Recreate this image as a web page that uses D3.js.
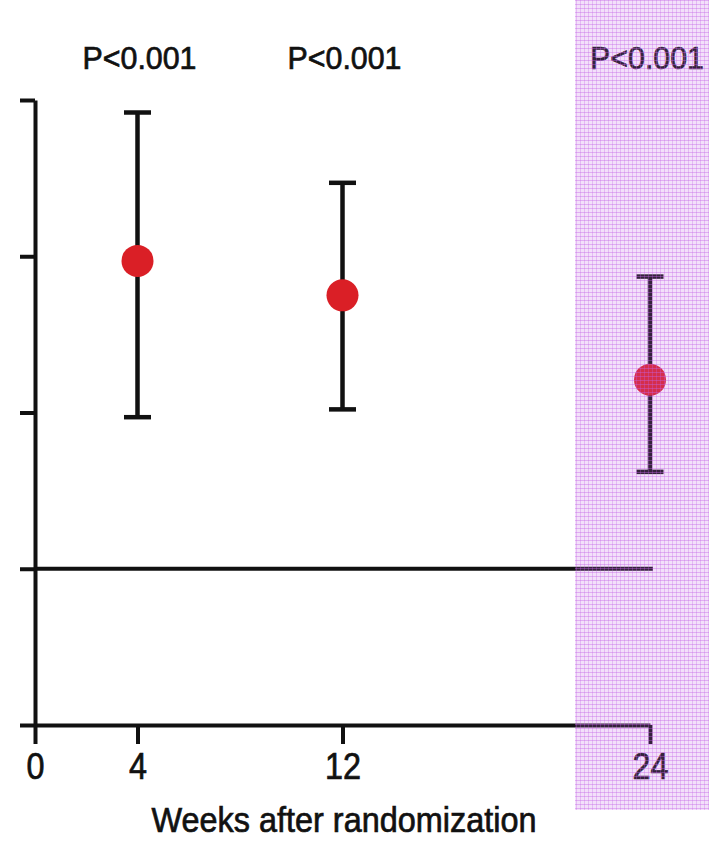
<!DOCTYPE html>
<html>
<head>
<meta charset="utf-8">
<script src="https://cdn.jsdelivr.net/npm/d3@7"></script>
<style>
  body { margin: 0; background: #fff; }
  text { font-family: "Liberation Sans", Arial, sans-serif; fill: #111; stroke: #111; stroke-width: 0.7px; }
</style>
</head>
<body>
<svg id="chart" width="709" height="846"></svg>
<script>
// data
const weeks = [4, 12, 24];
const estimates = [2.97, 2.75, 2.21];
const lower = [1.97, 2.02, 1.62];
const upper = [3.92, 3.47, 2.87];
const pLabels = ["P<0.001", "P<0.001", "P<0.001"];
const xTicks = [0, 4, 12, 24];
const yTicks = [0, 1, 2, 3, 4];
const refValue = 1;

const svg = d3.select('#chart');
const x = d3.scaleLinear().domain([0, 24]).range([35, 650]);
const y = d3.scaleLinear().domain([0, 4]).range([725, 100]);

const points = weeks.map((w, i) => ({ week: w, est: estimates[i], lo: lower[i], hi: upper[i], p: pLabels[i] }));

// y axis, no labels
const yAxis = svg.append('g').attr('transform', 'translate(35,0)')
    .call(d3.axisLeft(y).tickValues(yTicks).tickSize(15).tickSizeOuter(0).tickFormat(''));
yAxis.selectAll('path, line').attr('stroke', '#111').attr('stroke-width', 4);

// x axis
const xAxis = svg.append('g').attr('transform', 'translate(0,725)')
    .call(d3.axisBottom(x).tickValues(xTicks).tickSize(19).tickSizeOuter(0).tickPadding(9));
xAxis.selectAll('path, line').attr('stroke', '#111').attr('stroke-width', 4);
xAxis.selectAll('text').attr('font-size', '36px').attr('fill', '#111')
    .attr('textLength', d => String(d).length * 18).attr('lengthAdjust', 'spacingAndGlyphs');

// reference line
svg.append('line')
    .attr('x1', x(0)).attr('x2', x(24) + 3)
    .attr('y1', y(refValue)).attr('y2', y(refValue))
    .attr('stroke', '#111').attr('stroke-width', 4);

// error bars
const g = svg.selectAll('.pt').data(points).enter().append('g').attr('class', 'pt');
g.append('line')
    .attr('x1', d => x(d.week)).attr('x2', d => x(d.week))
    .attr('y1', d => y(d.hi)).attr('y2', d => y(d.lo))
    .attr('stroke', '#111').attr('stroke-width', 4.5);
g.append('line')
    .attr('x1', d => x(d.week) - 13.5).attr('x2', d => x(d.week) + 13.5)
    .attr('y1', d => y(d.hi)).attr('y2', d => y(d.hi))
    .attr('stroke', '#111').attr('stroke-width', 4.5);
g.append('line')
    .attr('x1', d => x(d.week) - 13.5).attr('x2', d => x(d.week) + 13.5)
    .attr('y1', d => y(d.lo)).attr('y2', d => y(d.lo))
    .attr('stroke', '#111').attr('stroke-width', 4.5);
g.append('circle')
    .attr('cx', d => x(d.week)).attr('cy', d => y(d.est)).attr('r', 16)
    .attr('fill', '#da1f26');

// p-value labels
svg.selectAll('.plab').data(points).enter().append('text')
    .attr('class', 'plab')
    .attr('x', d => x(d.week) + (d.week === 24 ? -3 : 2)).attr('y', 69)
    .attr('text-anchor', 'middle').attr('font-size', '32px')
    .attr('textLength', 114).attr('lengthAdjust', 'spacingAndGlyphs')
    .text(d => d.p);

// axis title
svg.append('text')
    .attr('x', 344).attr('y', 832).attr('text-anchor', 'middle')
    .attr('font-size', '35px')
    .attr('textLength', 385).attr('lengthAdjust', 'spacingAndGlyphs')
    .text('Weeks after randomization');

// pink hatched highlight over week 24
const defs = svg.append('defs');
const pat = defs.append('pattern').attr('id', 'grid')
    .attr('width', 4).attr('height', 4).attr('patternUnits', 'userSpaceOnUse');
pat.append('rect').attr('width', 4).attr('height', 4).attr('fill', '#c565e6').attr('fill-opacity', 0.2);
pat.append('rect').attr('width', 4).attr('height', 1).attr('fill', '#c565e6').attr('fill-opacity', 0.4);
pat.append('rect').attr('width', 1).attr('height', 4).attr('fill', '#c565e6').attr('fill-opacity', 0.3);

svg.append('rect')
    .attr('x', 575).attr('y', 0).attr('width', 134).attr('height', 810)
    .attr('fill', 'url(#grid)');
</script>
</body>
</html>
